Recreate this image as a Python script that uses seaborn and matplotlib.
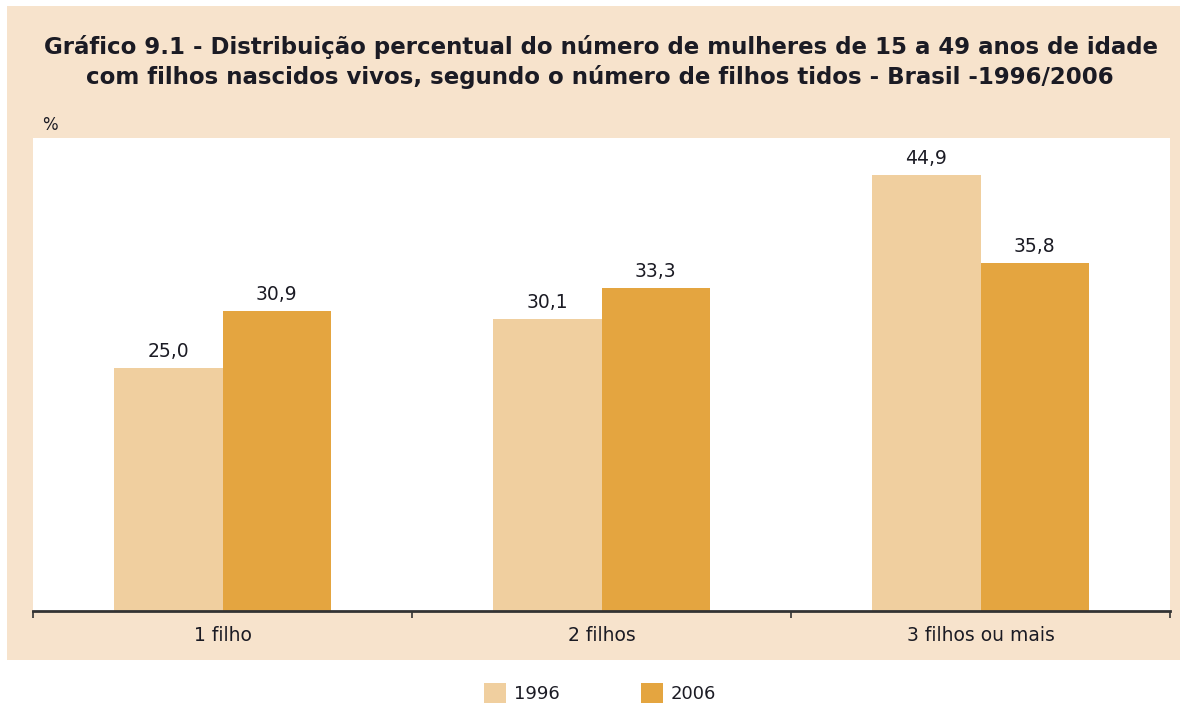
import numpy as np
import pandas as pd
import matplotlib; matplotlib.use('Agg')
import matplotlib.pyplot as plt
import seaborn as sns
from matplotlib.patches import Rectangle

# dados
categorias = ["1 filho", "2 filhos", "3 filhos ou mais"]
anos = ["1996", "2006"]
valores_1996 = [25.0, 30.1, 44.9]
valores_2006 = [30.9, 33.3, 35.8]
cores = ["#F0CF9F", "#E4A540"]

df = pd.DataFrame({
    "categoria": categorias * 2,
    "ano": [anos[0]] * 3 + [anos[1]] * 3,
    "valor": valores_1996 + valores_2006,
})

sns.set_theme(style="white")
plt.rcParams['font.family'] = ['DejaVu Sans']
TXT = "#1b1b24"

fig = plt.figure(figsize=(11.88, 7.05), dpi=100)
fig.patch.set_facecolor("white")
# painel bege atras do grafico
fig.patches.append(Rectangle((7/1188, 45/705), 1173/1188, 654/705,
                             transform=fig.transFigure, facecolor="#F7E3CC",
                             edgecolor="none", zorder=-1))

ax = fig.add_axes([33/1188, 94/705, 1137/1188, 473/705])
sns.barplot(data=df, x="categoria", y="valor", hue="ano", order=categorias,
            hue_order=anos, palette=cores, width=0.573, gap=0, saturation=1,
            edgecolor="none", linewidth=0, ax=ax, legend=False)

for cont in ax.containers:
    ax.bar_label(cont, labels=[f"{v:.1f}".replace(".", ",") for v in cont.datavalues],
                 padding=5, fontsize=13.5, color=TXT)

ax.set_xlim(-0.5, 2.5)
ax.set_ylim(0, 48.7)
ax.set_facecolor("white")
ax.set_xlabel("")
ax.set_ylabel("")
ax.set_yticks([])
ax.set_xticks([-0.5, 0.5, 1.5, 2.5])
ax.set_xticklabels([])
ax.set_xticks(range(3), minor=True)
ax.set_xticklabels(categorias, minor=True, fontsize=13.5, color=TXT)
ax.tick_params(axis="x", which="major", direction="out", length=5, width=1.2,
               color="#333333", bottom=True)
ax.tick_params(axis="x", which="minor", length=0, pad=11)
for s in ["top", "left", "right"]:
    ax.spines[s].set_visible(False)
ax.spines["bottom"].set_color("#333333")
ax.spines["bottom"].set_linewidth(2)

fig.text(601/1188, 1 - 47/705, "Gráfico 9.1 - Distribuição percentual do número de mulheres de 15 a 49 anos de idade",
         ha="center", va="center", fontsize=16.5, fontweight="bold", color=TXT)
fig.text(600/1188, 1 - 77/705, "com filhos nascidos vivos, segundo o número de filhos tidos - Brasil -1996/2006",
         ha="center", va="center", fontsize=16.5, fontweight="bold", color=TXT)
fig.text(42/1188, 1 - 125/705, "%", ha="left", va="center", fontsize=12, color=TXT)

# legenda
handles = [Rectangle((0, 0), 1, 1, facecolor=c, edgecolor="none") for c in cores]
fig.legend(handles, anos, loc="center", bbox_to_anchor=(600/1188, 1 - 693/705),
           ncol=2, frameon=False, fontsize=13, handlelength=1.22, handleheight=1.3,
           columnspacing=4.5, handletextpad=0.45, labelcolor=TXT)

fig.savefig("out.png", dpi=100, facecolor="white")
